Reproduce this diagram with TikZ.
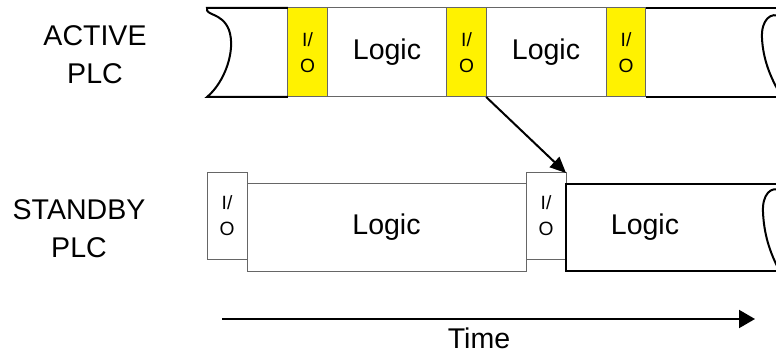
\documentclass[tikz,border=0pt]{standalone}
\usepackage{fontspec}
\setmainfont{Liberation Sans}
\usetikzlibrary{arrows.meta}

\begin{document}
\begin{tikzpicture}[x=0.75pt, y=-0.75pt,
		box/.style={draw=black!60, line width=0.75pt, outer sep=0pt, inner sep=0pt, align=center},
		io/.style={box, minimum width=29.5pt, minimum height=66.75pt, font=\fontsize{14.4pt}{19.5pt}\selectfont},
		yio/.style={io, fill=yellow},
		logic/.style={box, minimum height=66.75pt, font=\fontsize{21.4pt}{28.5pt}\selectfont},
		band/.style={line width=1.5pt},
		plclabel/.style={align=center, inner sep=0pt, font=\fontsize{21.4pt}{28.5pt}\selectfont},
		flow/.style={line width=1.5pt, -{Triangle[length=12pt, width=10.5pt]}}]
			%%%%% START %%%%%
			
			\useasboundingbox (0,0) rectangle (776,353);
			\clip (0,0) rectangle (776,353);
			
			\node[plclabel] (active) at (95,55) {ACTIVE\\PLC};
			\node[plclabel] (standby) at (79,229) {STANDBY\\PLC};
			
			% active
			\node[yio] (aio1) at (307.5,52.5) {I/\\O};
			\node[logic, minimum width=90pt] (alogic1) at (387,52.5) {Logic};
			\node[yio] (aio2) at (466.5,52.5) {I/\\O};
			\node[logic, minimum width=90pt] (alogic2) at (546,52.5) {Logic};
			\node[yio] (aio3) at (626,52.5) {I/\\O};
			
			\draw[band] (aio1.north west) -- (207,8) .. controls (205,16) and (222,12) .. (229,30) .. controls (236,50) and (225,82) .. (207,97) -- (aio1.south west);
			\draw[band] (aio3.north east) -- (790,8);
			\draw[band] (aio3.south east) -- (790,97);
			\draw[band] (781,17) .. controls (771,11) and (761,20) .. (762,38) .. controls (763,60) and (771,78) .. (779,92);
			
			% standby
			\node[io, minimum width=30pt, minimum height=64.5pt] (sio1) at (227,216) {I/\\O};
			\node[logic, minimum width=209.25pt, minimum height=65.25pt] (slogic1) at (386.5,227.5) {Logic};
			\node[io, minimum width=30pt, minimum height=64.5pt] (sio2) at (546,216) {I/\\O};
			
			\draw[band] (sio2.east |- slogic1.north) rectangle (790,271);
			\node[plclabel] (slogic2) at (645,227.5) {Logic};
			\draw[band] (781,191) .. controls (771,185) and (762,195) .. (763,212) .. controls (764,235) and (770,252) .. (778,268);
			
			\draw[flow] (aio2.south east) -- (sio2.north east);
			
			% time
			\coordinate (t0) at (222,319);
			\coordinate (t1) at (755,319);
			\draw[flow, -{Triangle[length=12pt, width=13.5pt]}] (t0) -- (t1);
			\node[plclabel, anchor=base] (time) at (479,348) {Time};
			
			%%%%% END %%%%%
\end{tikzpicture}
\end{document}
